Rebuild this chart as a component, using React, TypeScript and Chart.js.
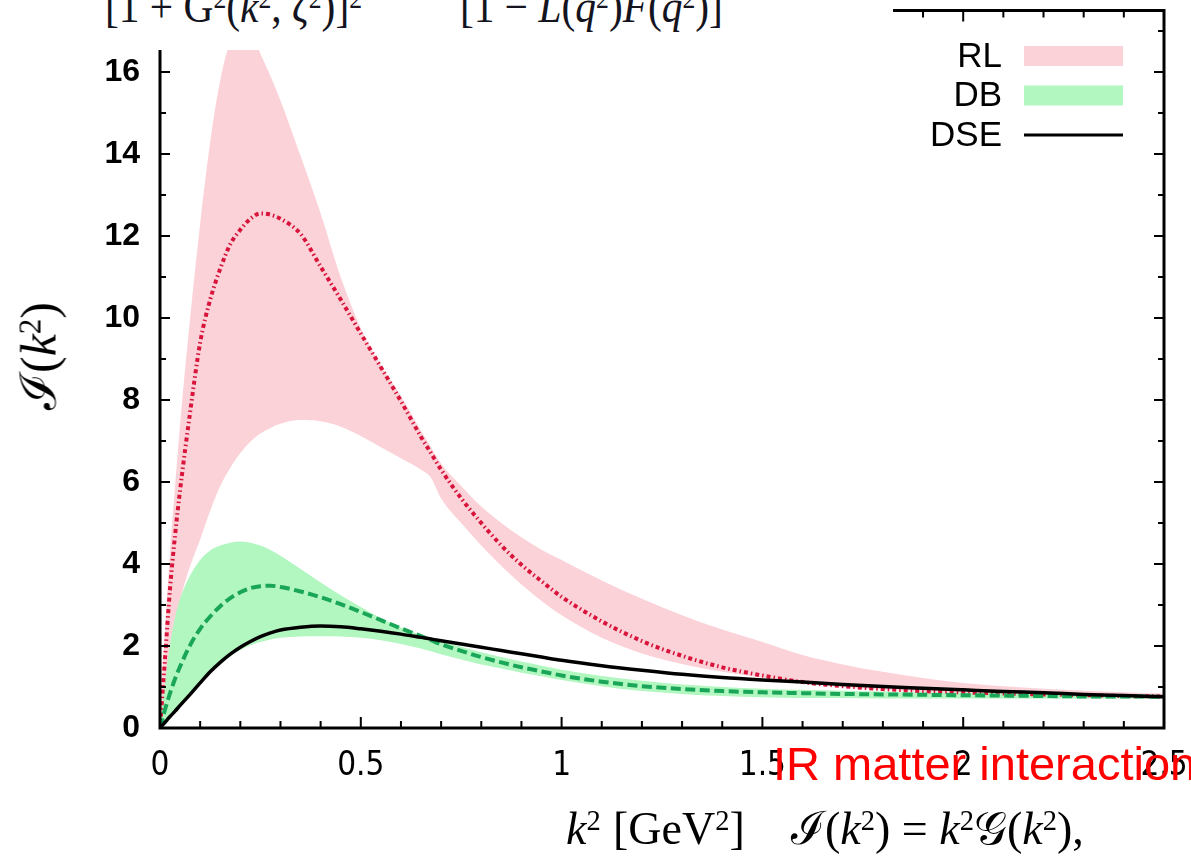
import { useEffect, useRef } from "react";
import { Chart, registerables } from "chart.js";

Chart.register(...registerables);

// k^2 sampling grid in GeV^2
const kSquared = [
  0, 0.0125, 0.025, 0.0375, 0.05, 0.075, 0.1, 0.125, 0.15, 0.175, 0.2, 0.225, 0.25, 0.275, 0.3,
  0.35, 0.4, 0.45, 0.5, 0.55, 0.6, 0.65, 0.675, 0.7, 0.75, 0.8, 0.85, 0.9, 0.95, 1.0, 1.1, 1.2,
  1.3, 1.4, 1.5, 1.6, 1.7, 1.8, 1.9, 2.0, 2.1, 2.2, 2.3, 2.4, 2.5,
];

// Rainbow-ladder band (upper / central / lower)
const rlUpper = [
  0, 2.4, 4.3, 5.9, 7.4, 10.0, 12.3, 14.3, 15.8, 16.75, 17.2, 17.05, 16.45, 15.9, 15.3,
  13.95, 12.55, 11.0, 9.75, 8.85, 8.1, 7.25, 6.85, 6.45, 5.9, 5.4, 5.0, 4.65, 4.35, 4.1, 3.6, 3.15,
  2.75, 2.4, 2.1, 1.78, 1.55, 1.37, 1.22, 1.1, 1.02, 0.96, 0.91, 0.87, 0.84,
];
const rlMean = [
  0, 1.7, 3.4, 4.7, 5.8, 7.7, 9.4, 10.45, 11.2, 11.8, 12.15, 12.42, 12.55, 12.52, 12.42,
  12.05, 11.25, 10.45, 9.62, 8.8, 7.97, 7.1, 6.7, 6.3, 5.6, 5.0, 4.45, 3.98, 3.58, 3.2, 2.6, 2.12,
  1.76, 1.48, 1.28, 1.12, 1.02, 0.95, 0.9, 0.87, 0.84, 0.82, 0.8, 0.78, 0.77,
];
const rlLower = [
  0, 0.85, 1.7, 2.5, 3.1, 3.95, 4.6, 5.3, 5.9, 6.35, 6.7, 6.98, 7.18, 7.32, 7.42,
  7.51, 7.48, 7.35, 7.12, 6.85, 6.58, 6.3, 6.1, 5.6, 5.0, 4.45, 3.95, 3.5, 3.1, 2.75, 2.2, 1.82,
  1.56, 1.37, 1.23, 1.1, 1.0, 0.93, 0.88, 0.85, 0.83, 0.81, 0.79, 0.77, 0.76,
];

// DB-improved band (upper / central / lower)
const dbUpper = [
  0, 1.1, 2.05, 2.7, 3.15, 3.72, 4.1, 4.33, 4.45, 4.52, 4.55, 4.52, 4.45, 4.34, 4.2,
  3.88, 3.55, 3.24, 2.95, 2.68, 2.45, 2.27, 2.2, 2.12, 1.98, 1.85, 1.73, 1.62, 1.52, 1.42, 1.27, 1.15,
  1.06, 1.0, 0.96, 0.93, 0.91, 0.89, 0.87, 0.86, 0.85, 0.84, 0.83, 0.82, 0.81,
];
const dbMean = [
  0, 0.45, 0.85, 1.2, 1.5, 2.02, 2.42, 2.72, 2.97, 3.17, 3.31, 3.41, 3.46, 3.47, 3.44,
  3.33, 3.19, 3.02, 2.83, 2.63, 2.43, 2.24, 2.14, 2.04, 1.88, 1.73, 1.6, 1.48, 1.38, 1.28, 1.13, 1.02,
  0.95, 0.9, 0.87, 0.85, 0.83, 0.82, 0.81, 0.8, 0.79, 0.78, 0.77, 0.77, 0.76,
];
const dbLower = [
  0, 0.14, 0.28, 0.42, 0.56, 0.83, 1.08, 1.33, 1.55, 1.75, 1.9, 2.02, 2.1, 2.16, 2.2,
  2.23, 2.24, 2.23, 2.2, 2.14, 2.05, 1.94, 1.87, 1.8, 1.67, 1.55, 1.45, 1.35, 1.26, 1.17, 1.02, 0.9,
  0.83, 0.78, 0.75, 0.73, 0.73, 0.72, 0.72, 0.72, 0.72, 0.72, 0.72, 0.72, 0.72,
];

// Dyson-Schwinger result
const dseCurve = [
  0, 0.14, 0.28, 0.41, 0.55, 0.82, 1.1, 1.37, 1.6, 1.8, 1.97, 2.11, 2.23, 2.32, 2.39,
  2.46, 2.49, 2.47, 2.42, 2.36, 2.29, 2.21, 2.17, 2.13, 2.05, 1.97, 1.89, 1.81, 1.73, 1.65, 1.52, 1.41,
  1.31, 1.23, 1.17, 1.12, 1.06, 1.01, 0.97, 0.93, 0.89, 0.86, 0.82, 0.79, 0.76,
];

const xTickValues = [0, 0.5, 1, 1.5, 2, 2.5];
const xTickLabels = ["0", "0.5", "1", "1.5", "2", "2.5"];
const yTickValues = [0, 2, 4, 6, 8, 10, 12, 14, 16];
const yTickLabels = ["0", "2", "4", "6", "8", "10", "12", "14", "16"];
const legendLabels = ["RL", "DB", "DSE"];

const X_MIN = 0;
const X_MAX = 2.5;
const Y_MIN = 0;
const Y_MAX = 17.5;
const X_MINOR_STEP = 0.1;
const Y_MINOR_STEP = 1;

const PINK = "rgb(252, 210, 217)";
const GREEN_FILL = "rgb(178, 246, 192)";
const RED_LINE = "rgb(216, 20, 58)";
const GREEN_LINE = "rgb(26, 166, 88)";

const FONT_SANS = "'Liberation Sans', Arial, Helvetica, sans-serif";
const FONT_NARROW = "'Liberation Sans Narrow', 'DejaVu Sans Condensed', 'Liberation Sans', sans-serif";
const FONT_SERIF = "'Liberation Serif', 'DejaVu Serif', 'Times New Roman', serif";

const toPoints = (ys: number[]) => kSquared.map((x, i) => ({ x, y: ys[i] }));

// Frame with inward tick marks on all four sides, plus the key in the upper right.
const frameAndKey = {
  id: "frameAndKey",
  afterDatasetsDraw(chart: any) {
    const { ctx, chartArea: a, scales } = chart;
    const xs = scales.x;
    const ys = scales.y;
    ctx.save();
    ctx.strokeStyle = "#000";
    ctx.lineWidth = 2;
    ctx.beginPath();
    const nx = Math.round((X_MAX - X_MIN) / X_MINOR_STEP);
    for (let i = 0; i <= nx; i++) {
      const v = X_MIN + i * X_MINOR_STEP;
      const px = xs.getPixelForValue(v);
      const len = i % 5 === 0 ? 11 : 7;
      ctx.moveTo(px, a.bottom);
      ctx.lineTo(px, a.bottom - len);
      ctx.moveTo(px, a.top);
      ctx.lineTo(px, a.top + len);
    }
    const ny = Math.floor((Y_MAX - Y_MIN) / Y_MINOR_STEP);
    for (let i = 0; i <= ny; i++) {
      const v = Y_MIN + i * Y_MINOR_STEP;
      const py = ys.getPixelForValue(v);
      const len = i % 2 === 0 ? 10 : 6;
      ctx.moveTo(a.left, py);
      ctx.lineTo(a.left + len, py);
      ctx.moveTo(a.right, py);
      ctx.lineTo(a.right - len, py);
    }
    ctx.stroke();
    ctx.lineWidth = 3;
    ctx.strokeRect(a.left, a.top, a.right - a.left, a.bottom - a.top);

    // key
    const ds = chart.data.datasets;
    const entries = [
      { label: legendLabels[0], kind: "band", color: ds[1].backgroundColor },
      { label: legendLabels[1], kind: "band", color: ds[3].backgroundColor },
      { label: legendLabels[2], kind: "line", color: ds[6].borderColor },
    ];
    const textRight = a.right - 162;
    const boxLeft = a.right - 140;
    const boxRight = a.right - 41;
    const rowY = [a.top + 45.5, a.top + 85, a.top + 124.5];
    ctx.font = `35px ${FONT_SANS}`;
    ctx.textAlign = "right";
    ctx.textBaseline = "middle";
    entries.forEach((e, i) => {
      const cy = rowY[i];
      ctx.fillStyle = "#000";
      ctx.fillText(e.label, textRight, cy + 1);
      if (e.kind === "band") {
        ctx.fillStyle = e.color;
        ctx.fillRect(boxLeft, cy - 10, boxRight - boxLeft, 20);
      } else {
        ctx.strokeStyle = e.color;
        ctx.lineWidth = 3;
        ctx.beginPath();
        ctx.moveTo(boxLeft, cy);
        ctx.lineTo(boxRight, cy);
        ctx.stroke();
      }
    });
    ctx.restore();
  },
};

const supStyle: React.CSSProperties = {
  fontSize: "0.62em",
  position: "relative",
  top: "-0.48em",
  verticalAlign: "baseline",
};

export default function App() {
  const canvasRef = useRef<HTMLCanvasElement | null>(null);

  useEffect(() => {
    const canvas = canvasRef.current;
    if (!canvas) return;
    const lineBase = {
      pointRadius: 0,
      cubicInterpolationMode: "monotone" as const,
    };
    const chart = new Chart(canvas, {
      type: "line",
      data: {
        datasets: [
          { ...lineBase, label: "RL lower", data: toPoints(rlLower), borderWidth: 0, borderColor: "rgba(0,0,0,0)", fill: false, order: 10 },
          { ...lineBase, label: "RL", data: toPoints(rlUpper), borderWidth: 0, borderColor: "rgba(0,0,0,0)", backgroundColor: PINK, fill: "-1", order: 9 },
          { ...lineBase, label: "DB lower", data: toPoints(dbLower), borderWidth: 0, borderColor: "rgba(0,0,0,0)", fill: false, order: 8 },
          { ...lineBase, label: "DB", data: toPoints(dbUpper), borderWidth: 0, borderColor: "rgba(0,0,0,0)", backgroundColor: GREEN_FILL, fill: "-1", order: 7 },
          { ...lineBase, label: "RL central", data: toPoints(rlMean), borderWidth: 4, borderColor: RED_LINE, borderDash: [4, 3, 1.5, 3], fill: false, order: 3 },
          { ...lineBase, label: "DB central", data: toPoints(dbMean), borderWidth: 4, borderColor: GREEN_LINE, borderDash: [10, 4.5], fill: false, order: 2 },
          { ...lineBase, label: "DSE", data: toPoints(dseCurve), borderWidth: 3.5, borderColor: "#000", fill: false, order: 1 },
        ],
      },
      options: {
        responsive: false,
        animation: false,
        events: [],
        layout: { padding: { left: 0, right: 27, top: 10.5, bottom: 0 } },
        plugins: {
          legend: { display: false },
          tooltip: { enabled: false },
        },
        scales: {
          x: {
            type: "linear",
            min: X_MIN,
            max: X_MAX,
            grid: { display: false, drawTicks: false },
            border: { display: false },
            afterBuildTicks: (s: any) => {
              s.ticks = xTickValues.map((value) => ({ value }));
            },
            afterFit: (s: any) => {
              s.height = 128;
              s.paddingLeft = 0;
              s.paddingRight = 0;
              s.paddingTop = 0;
              s.paddingBottom = 0;
            },
            ticks: {
              autoSkip: false,
              maxRotation: 0,
              minRotation: 0,
              padding: 19,
              color: "#000",
              font: { family: FONT_NARROW, size: 33 },
              callback: (v: any) => xTickLabels[xTickValues.indexOf(Number(v))] ?? "",
            },
          },
          y: {
            type: "linear",
            min: Y_MIN,
            max: Y_MAX,
            grid: { display: false, drawTicks: false },
            border: { display: false },
            afterBuildTicks: (s: any) => {
              s.ticks = yTickValues.map((value) => ({ value }));
            },
            afterFit: (s: any) => {
              s.width = 160;
              s.paddingLeft = 0;
              s.paddingRight = 0;
              s.paddingTop = 0;
              s.paddingBottom = 0;
            },
            ticks: {
              autoSkip: false,
              padding: 20,
              color: "#000",
              font: { family: FONT_SANS, size: 32, weight: "bold" },
              callback: (v: any) => yTickLabels[yTickValues.indexOf(Number(v))] ?? "",
            },
          },
        },
      },
      plugins: [frameAndKey],
    });
    return () => chart.destroy();
  }, []);

  return (
    <div
      style={{
        position: "fixed",
        left: 0,
        top: 0,
        width: 1191,
        height: 856,
        overflow: "hidden",
        background: "#fff",
      }}
    >
      <canvas ref={canvasRef} width={1191} height={856} style={{ position: "absolute", left: 0, top: 0 }} />

      {/* equation strip across the top */}
      <div
        style={{
          position: "absolute",
          left: 0,
          top: 0,
          width: 893,
          height: 50,
          background: "#fff",
          overflow: "hidden",
          fontFamily: FONT_SERIF,
          fontSize: 46,
          lineHeight: "46px",
          color: "#141420",
          whiteSpace: "nowrap",
        }}
      >
        <span style={{ position: "absolute", left: 105, top: -16, transform: "scaleX(0.9)", transformOrigin: "0 0" }}>
          [1 + G<span style={supStyle}>2</span>(<i>k</i>
          <span style={supStyle}>2</span>, <i>ζ</i>
          <span style={supStyle}>2</span>)]<span style={supStyle}>2</span>
        </span>
        <span style={{ position: "absolute", left: 460, top: -16, transform: "scaleX(0.9)", transformOrigin: "0 0" }}>
          [1 − <i>L</i>(<i>q</i>
          <span style={supStyle}>2</span>)<i>F</i>(<i>q</i>
          <span style={supStyle}>2</span>)]
        </span>
      </div>

      {/* y-axis title */}
      <div
        style={{
          position: "absolute",
          left: 42,
          top: 356,
          transform: "translate(-50%, -50%) rotate(-90deg)",
          fontFamily: FONT_SERIF,
          fontSize: 50,
          lineHeight: "50px",
          whiteSpace: "nowrap",
          color: "#000",
        }}
      >
        ℐ(<i>k</i>
        <span style={supStyle}>2</span>)
      </div>

      {/* x-axis title and definition */}
      <div
        style={{
          position: "absolute",
          left: 0,
          top: 806,
          width: 1191,
          height: 50,
          fontFamily: FONT_SERIF,
          fontSize: 46,
          lineHeight: "46px",
          whiteSpace: "nowrap",
          color: "#000",
        }}
      >
        <span style={{ position: "absolute", left: 566, top: 0 }}>
          <i>k</i>
          <span style={supStyle}>2</span>
        </span>
        <span style={{ position: "absolute", left: 613, top: 0 }}>
          [GeV<span style={supStyle}>2</span>]
        </span>
        <span style={{ position: "absolute", left: 791, top: 0 }}>
          ℐ(<i>k</i>
          <span style={supStyle}>2</span>) = <i>k</i>
          <span style={supStyle}>2</span>𝒢(<i>k</i>
          <span style={supStyle}>2</span>),
        </span>
      </div>

      {/* annotation */}
      <div
        style={{
          position: "absolute",
          left: 773,
          top: 740,
          fontFamily: FONT_SANS,
          fontSize: 47,
          lineHeight: "47px",
          color: "#ff0000",
          whiteSpace: "nowrap",
        }}
      >
        IR matter interaction
      </div>
    </div>
  );
}
